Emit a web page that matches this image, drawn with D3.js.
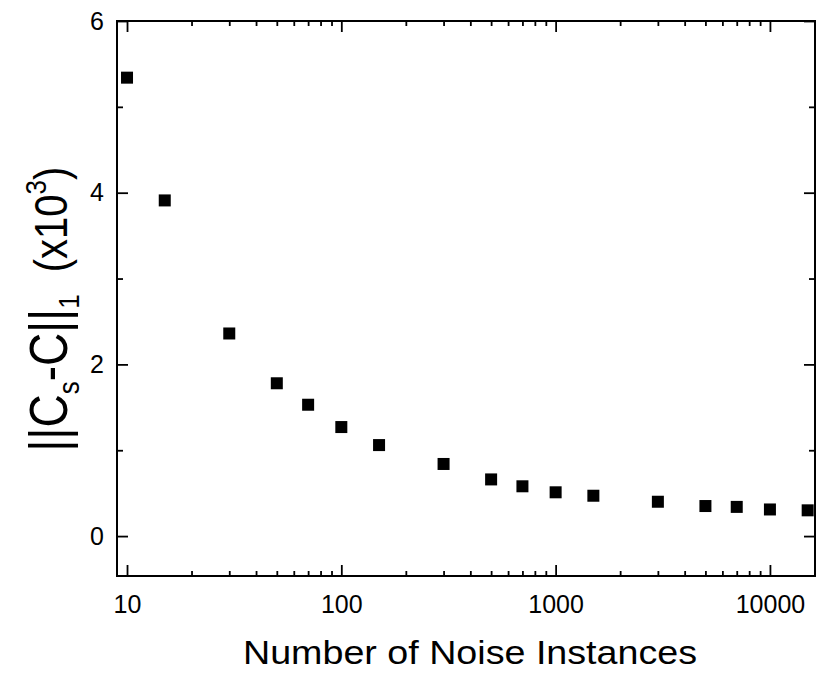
<!DOCTYPE html>
<html>
<head>
<meta charset="utf-8">
<script src="https://cdn.jsdelivr.net/npm/d3@7"></script>
<style>
  html, body { margin: 0; padding: 0; background: #fff; }
  svg { display: block; font-family: "Liberation Sans", Arial, sans-serif; }
  .ticklab { font-size: 25px; font-family: "Liberation Sans", Arial, sans-serif; fill: #000; }
</style>
</head>
<body>
<svg id="chart" width="817" height="673"></svg>
<script>
// ---- data ----
const noiseInstances = [10, 15, 30, 50, 70, 100, 150, 300, 500, 700, 1000, 1500, 3000, 5000, 7000, 10000, 15000];
const normValues = [5.34, 3.91, 2.36, 1.78, 1.53, 1.27, 1.06, 0.84, 0.66, 0.58, 0.51, 0.47, 0.40, 0.35, 0.34, 0.31, 0.30];
const xMajorTicks = [10, 100, 1000, 10000];
const xTickLabels = ["10", "100", "1000", "10000"];
const yMajorTicks = [0, 2, 4, 6];
const yMinorTicks = [1, 3, 5];
const xTitle = "Number of Noise Instances";

// ---- layout ----
const mLeft = 117, mRight = 815, mTop = 21, mBottom = 576;
const svg = d3.select("#chart");

const x = d3.scaleLog()
  .domain([Math.pow(10, 1 - 10 / 214), Math.pow(10, 4 + 45 / 214)])
  .range([mLeft, mRight]);
const y = d3.scaleLinear()
  .domain([-0.465, 6])
  .range([mBottom, mTop]);

const xMinorTicks = [];
[10, 100, 1000, 10000].forEach(d => {
  for (let k = 2; k <= 9; k++) {
    const v = d * k;
    if (v > x.domain()[0] && v < x.domain()[1]) xMinorTicks.push(v);
  }
});

const fmt = d => xTickLabels[xMajorTicks.indexOf(d)];

function style(g) {
  g.attr("font-size", null).attr("font-family", null);
  g.select(".domain").remove();
  g.selectAll(".tick line").attr("stroke", "#000").attr("stroke-width", 1.8);
  g.selectAll(".tick text").attr("class", "ticklab").attr("fill", "#000");
}

// bottom
svg.append("g").attr("transform", `translate(0,${mBottom})`)
  .call(d3.axisBottom(x).tickValues(xMajorTicks).tickFormat(fmt).tickSize(-11).tickPadding(19))
  .call(style);
svg.append("g").attr("transform", `translate(0,${mBottom})`)
  .call(d3.axisBottom(x).tickValues(xMinorTicks).tickFormat("").tickSize(-5))
  .call(style);
// top
svg.append("g").attr("transform", `translate(0,${mTop})`)
  .call(d3.axisTop(x).tickValues(xMajorTicks).tickFormat("").tickSize(-11))
  .call(style);
svg.append("g").attr("transform", `translate(0,${mTop})`)
  .call(d3.axisTop(x).tickValues(xMinorTicks).tickFormat("").tickSize(-5))
  .call(style);
// left
svg.append("g").attr("transform", `translate(${mLeft},0)`)
  .call(d3.axisLeft(y).tickValues(yMajorTicks).tickFormat(d3.format("d")).tickSize(-11).tickPadding(13))
  .call(style);
svg.append("g").attr("transform", `translate(${mLeft},0)`)
  .call(d3.axisLeft(y).tickValues(yMinorTicks).tickFormat("").tickSize(-6))
  .call(style);
// right
svg.append("g").attr("transform", `translate(${mRight},0)`)
  .call(d3.axisRight(y).tickValues(yMajorTicks).tickFormat("").tickSize(-11))
  .call(style);
svg.append("g").attr("transform", `translate(${mRight},0)`)
  .call(d3.axisRight(y).tickValues(yMinorTicks).tickFormat("").tickSize(-6))
  .call(style);

// frame
svg.append("rect")
  .attr("x", mLeft).attr("y", mTop)
  .attr("width", mRight - mLeft).attr("height", mBottom - mTop)
  .attr("fill", "none").attr("stroke", "#000").attr("stroke-width", 2);

// markers
const sz = 12;
svg.append("g").selectAll("rect")
  .data(noiseInstances.map((d, i) => [d, normValues[i]]))
  .join("rect")
  .attr("x", d => x(d[0]) - sz / 2)
  .attr("y", d => y(d[1]) - sz / 2)
  .attr("width", sz).attr("height", sz)
  .attr("fill", "#000");

// x title
svg.append("text")
  .attr("x", 470).attr("y", 664)
  .attr("text-anchor", "middle")
  .attr("textLength", 454).attr("lengthAdjust", "spacingAndGlyphs")
  .style("font-size", "34px").attr("fill", "#000")
  .text(xTitle);

// y title
const yt = svg.append("text")
  .attr("transform", "translate(67,309) rotate(-90) scale(1,1.15)")
  .attr("text-anchor", "middle")
  .attr("fill", "#000");
yt.append("tspan").style("font-size", "46px").text("||C");
yt.append("tspan").style("font-size", "26px").attr("dy", 10).text("s");
yt.append("tspan").style("font-size", "46px").attr("dy", -10).text("-C||");
yt.append("tspan").style("font-size", "26px").attr("dy", 10).text("1");
yt.append("tspan").style("font-size", "40px").attr("dy", -10).text("\u00a0\u00a0(x10");
yt.append("tspan").style("font-size", "26px").attr("dy", -18).text("3");
yt.append("tspan").style("font-size", "40px").attr("dy", 18).text(")");
</script>
</body>
</html>
